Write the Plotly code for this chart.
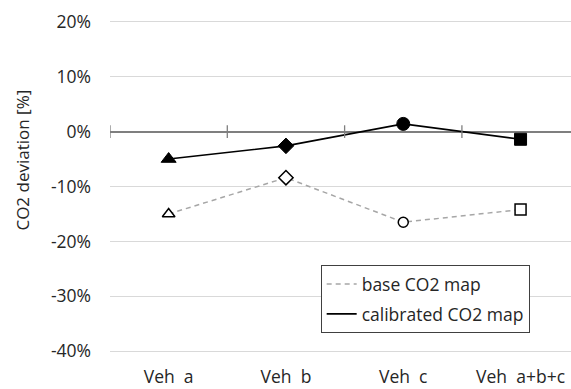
import plotly.graph_objects as go

# Vehicles compared
vehicles = ["Veh  a", "Veh  b", "Veh  c", "Veh  a+b+c"]

# CO2 deviation in percent per vehicle
base_map = [-15.0, -8.4, -16.5, -14.2]
calibrated_map = [-5.0, -2.6, 1.4, -1.4]

symbols = ["triangle-up", "diamond", "circle", "square"]
filled_sizes = [13, 12, 13, 12]
open_sizes = [11, 11, 10, 11]

y_ticks = [20, 10, 0, -10, -20, -30, -40]
y_tick_text = [f"{v}%" for v in y_ticks]

FONT = "Open Sans"
TXT = "#262626"
FS = 17.5

fig = go.Figure()

# base CO2 map: grey dashed line with hollow markers
fig.add_trace(go.Scatter(
    x=vehicles, y=base_map, mode="lines+markers", showlegend=False, opacity=1,
    line=dict(color="#a6a6a6", width=1.5, dash="5px,4px"),
    marker=dict(symbol=symbols, size=open_sizes, color="white", opacity=1,
                line=dict(color="black", width=1.5)),
))

# calibrated CO2 map: black solid line with filled markers
fig.add_trace(go.Scatter(
    x=vehicles, y=calibrated_map, mode="lines+markers", showlegend=False, opacity=1,
    line=dict(color="black", width=1.6),
    marker=dict(symbol=symbols, size=filled_sizes, color="#000000", opacity=1,
                line=dict(color="#000000", width=1)),
))

# legend entries show only the line style
fig.add_trace(go.Scatter(x=[None], y=[None], mode="lines", name="base CO2 map",
                         legendgroup="base",
                         line=dict(color="#a6a6a6", width=1.5, dash="5px,4px")))
fig.add_trace(go.Scatter(x=[None], y=[None], mode="lines", name="calibrated CO2 map",
                         legendgroup="cal",
                         line=dict(color="black", width=1.6)))

# cross tick marks on the zero line at category boundaries
for i in range(len(vehicles)):
    fig.add_shape(type="line", xref="x", yref="y",
                  x0=i - 0.5, x1=i - 0.5, y0=-1.15, y1=1.15,
                  line=dict(color="#7f7f7f", width=1.3))

fig.add_annotation(text="CO2 deviation [%]", xref="paper", yref="paper",
                   x=-0.189, y=0.58, xanchor="center", yanchor="middle",
                   textangle=-90, showarrow=False,
                   font=dict(family=FONT, size=FS - 0.5, color=TXT))

fig.update_layout(
    width=571, height=389,
    margin=dict(l=110, r=0, t=19, b=34.5),
    paper_bgcolor="white", plot_bgcolor="white",
    font=dict(family=FONT, size=FS, color=TXT),
    legend=dict(x=0.457, y=0.265, xanchor="left", yanchor="top",
                bordercolor="#404040", borderwidth=1, bgcolor="white",
                font=dict(family=FONT, size=FS, color=TXT),
                tracegroupgap=4, itemwidth=30),
    xaxis=dict(range=[-0.5, 3.43], showgrid=False, zeroline=False,
               showline=False, ticks="", ticklabelstandoff=10, automargin=False),
    yaxis=dict(range=[-40.5, 20.5], tickvals=y_ticks, ticktext=y_tick_text,
               showgrid=True, gridcolor="#d9d9d9", gridwidth=1.3,
               zeroline=True, zerolinecolor="#7f7f7f", zerolinewidth=1.6,
               showline=False, ticks="", ticklabelstandoff=18, automargin=False),
)

fig.write_html("out.html")
